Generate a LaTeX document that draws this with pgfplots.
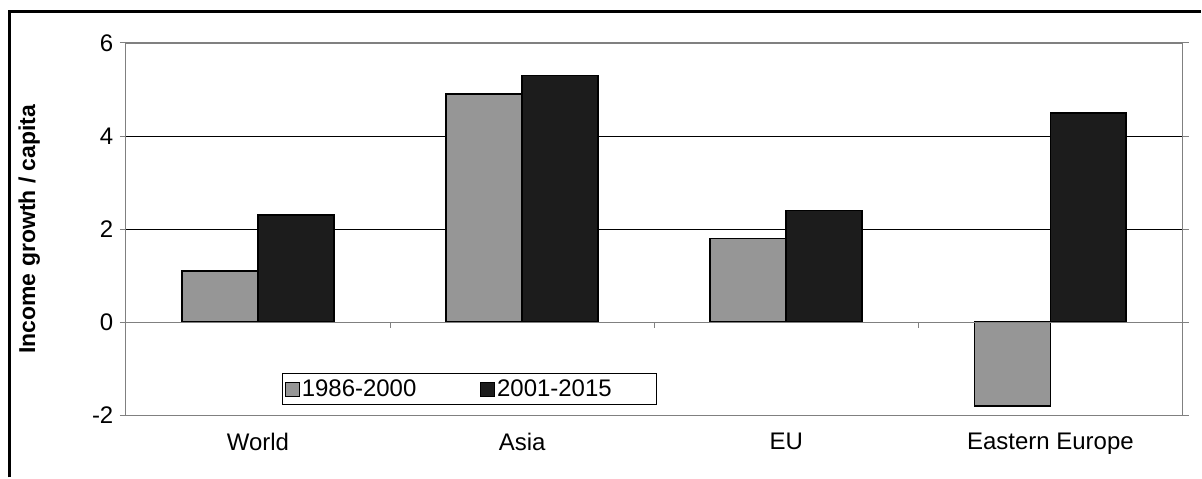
\documentclass[border=0pt]{standalone}
\usepackage{pgfplots}
\pgfplotsset{compat=1.18}
\usepackage{fontspec}
\setmainfont{Liberation Sans}
\definecolor{gbar}{HTML}{969696}
\definecolor{kbar}{HTML}{1C1C1C}
\definecolor{axgray}{HTML}{808080}
\begin{document}
\begin{tikzpicture}[x=1pt,y=1pt]
\path (0,0) rectangle (1202,478);
\draw[line width=3pt] (10,0) -- (10,466) -- (1202,466);
\begin{axis}[at={(126pt,62pt)},anchor=south west,scale only axis,
 width=1058pt,height=373pt,
 ybar,bar width=76pt,
 xmin=-0.5,xmax=3.5,ymin=-2,ymax=6,
 xtick=data,xticklabels={World,Asia,EU,Eastern Europe},
 major x tick style={draw=none},
 ytick={-2,0,2,4,6},
 ymajorgrids, grid style={black,line width=0.8pt},
 axis line style={axgray,line width=1.2pt},
 ytick style={axgray,line width=1pt},tick align=outside,major tick length=6pt,
 tick label style={font=\fontsize{24}{27}\selectfont},
 /pgf/number format/assume math mode=true,
 yticklabel style={xshift=-3pt},
 ylabel={\bfseries Income growth / capita},
 ylabel style={font=\fontsize{23}{26}\selectfont,at={(axis description cs:-0.078,0.5)}},
 xticklabel style={yshift=-8pt},
 legend style={at={(0.1474,0.0295)},anchor=south west,legend columns=2,
   draw=black,line width=0.8pt,font=\fontsize{24}{26}\selectfont,
   inner xsep=3pt,inner ysep=4pt,/tikz/every even column/.append style={column sep=62pt}},
 legend image code/.code={\draw[#1,line width=0.8pt] (0pt,-7pt) rectangle (14pt,7pt);},
]
\addplot[fill=gbar,draw=black,line width=1.8pt,bar shift=-38pt] coordinates {(0,1.1) (1,4.9) (2,1.8) (3,-1.8)};
\addplot[fill=kbar,draw=black,line width=1.8pt,bar shift=38pt] coordinates {(0,2.3) (1,5.3) (2,2.4) (3,4.5)};
\legend{1986-2000,2001-2015\makebox[40pt]{}}
\draw[axgray,line width=1pt] (axis cs:-0.5,0) -- (axis cs:3.5,0);
\draw[axgray,line width=1pt] (axis cs:0.5,0) -- (axis cs:0.5,-0.13);
\draw[axgray,line width=1pt] (axis cs:1.5,0) -- (axis cs:1.5,-0.13);
\draw[axgray,line width=1pt] (axis cs:2.5,0) -- (axis cs:2.5,-0.13);
\draw[axgray,line width=1pt] (axis cs:3.5,0) -- (axis cs:3.5,-0.13);
\end{axis}
\end{tikzpicture}
\end{document}
